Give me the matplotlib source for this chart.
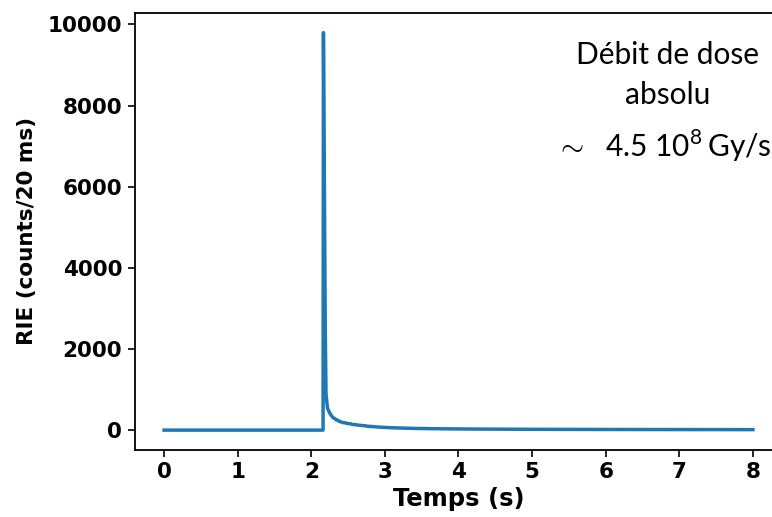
import matplotlib
matplotlib.use("Agg")
import matplotlib.pyplot as plt

# RIE signal (time in s, counts per 20 ms)
times = [0.0, 1.0, 2.0, 2.16, 2.165, 2.19, 2.20, 2.22, 2.25, 2.28, 2.30, 2.32,
         2.34, 2.36, 2.38, 2.40, 2.43, 2.46, 2.50, 2.53, 2.56, 2.60, 2.63, 2.66,
         2.70, 2.73, 2.76, 2.80, 2.85, 2.90, 2.95, 3.00, 3.10, 3.20, 3.30, 3.40,
         3.50, 3.60, 3.80, 4.00, 4.25, 4.50, 4.75, 5.00, 5.50, 6.00, 6.50, 7.00,
         7.50, 8.00]
counts = [0, 0, 0, 0, 9800, 2500, 900, 540, 420, 340, 300, 285,
          250, 245, 215, 205, 185, 180, 160, 158, 140, 135, 125, 120,
          110, 108, 95, 92, 85, 76, 72, 66, 58, 52, 47, 42,
          40, 36, 32, 29, 26, 24, 22, 20, 18, 16, 15, 14,
          13, 12]

x_ticks = [0, 1, 2, 3, 4, 5, 6, 7, 8]
y_ticks = [0, 2000, 4000, 6000, 8000, 10000]

fig = plt.figure(figsize=(7.72, 5.17), dpi=100)
ax = fig.add_axes([0.1744, 0.1296, 0.839, 0.8458])
ax.plot(times, counts, color="#1f77b4", linewidth=2.5)

ax.set_xlim(-0.4, 8.4)
ax.set_ylim(-490, 10290)
ax.set_xticks(x_ticks)
ax.set_yticks(y_ticks)
for lab in ax.get_xticklabels() + ax.get_yticklabels():
    lab.set_fontweight("bold")
    lab.set_fontsize(15.5)
ax.tick_params(length=5, width=1.2, pad=4)
for sp in ax.spines.values():
    sp.set_linewidth(1.3)
ax.spines["right"].set_visible(False)

ax.set_xlabel("Temps (s)", fontsize=17.5, fontweight="heavy", labelpad=3)
ax.set_ylabel("RIE (counts/20 ms)", fontsize=15.5, fontweight="bold", labelpad=8)

plt.rcParams["mathtext.fontset"] = "custom"
plt.rcParams["mathtext.rm"] = "Lato"
fig.text(668 / 772, 1 - 55 / 517, "Débit de dose", family="Lato",
         fontsize=21.5, ha="center", va="center")
fig.text(668 / 772, 1 - 95 / 517, "absolu", family="Lato",
         fontsize=21.5, ha="center", va="center")
fig.text(663 / 772, 1 - 146 / 517, r"$\sim$  4.5 10$^{8}\,$Gy/s", family="Lato",
         fontsize=21.5, ha="center", va="center")

fig.savefig("out.png", dpi=100)
